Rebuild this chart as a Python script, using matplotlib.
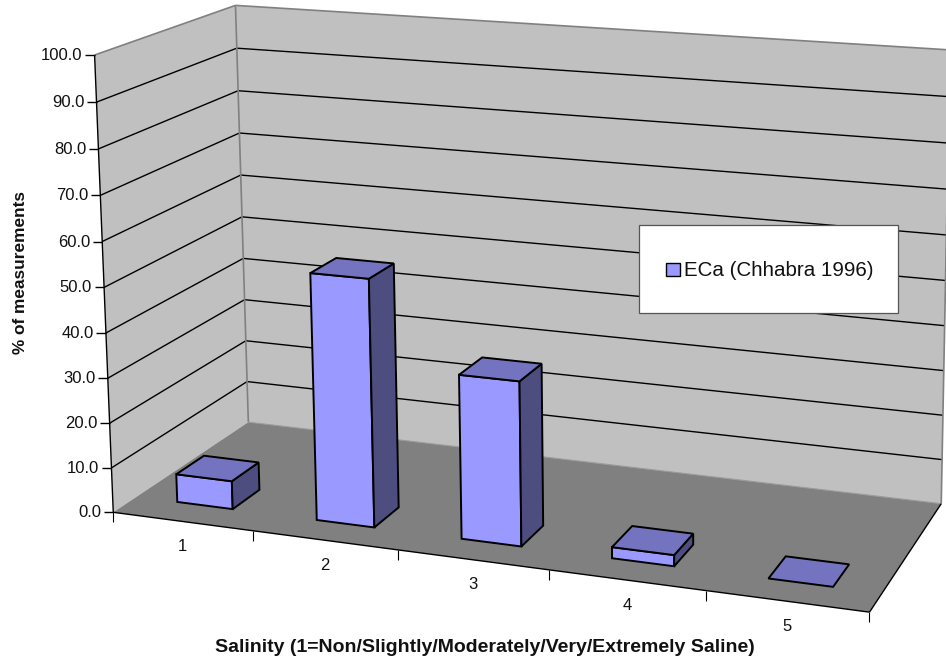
import numpy as np
import matplotlib
matplotlib.use("Agg")
import matplotlib.pyplot as plt
from matplotlib.patches import Polygon, Rectangle

plt.rcParams['font.family'] = ['Liberation Sans', 'DejaVu Sans']

categories = ['1', '2', '3', '4', '5']
values = [6.3, 54.4, 35.7, 2.4, 0.0]
z_ticks = [0, 10, 20, 30, 40, 50, 60, 70, 80, 90, 100]
z_labels = ['%.1f' % t for t in z_ticks]
series_name = 'ECa (Chhabra 1996)'
x_title = 'Salinity (1=Non/Slightly/Moderately/Very/Extremely Saline)'
z_title = '% of measurements'

# Calibration of the pseudo-3D view: scale position (cat, depth, value) -> pixel
calib_scale = [(0, 0, 0), (0, 0, 100), (0, 1, 0), (0, 1, 100), (5, 0, 0), (5, 1, 0),
               (5, 1, 100), (1, 0, 0), (2, 0, 0), (3, 0, 0), (4, 0, 0), (0, 0, 50), (0, 1, 50)]
calib_pixel = [(114, 512), (94, 55), (248, 423), (236, 6), (870, 612), (941, 504),
               (950, 50), (253, 531), (398, 550), (549, 570), (706, 590), (104, 288), (242, 215)]


def fit_projection(src, dst):
    rows = []
    for (X, Y, Z), (u, v) in zip(src, dst):
        rows.append([X, Y, Z, 1, 0, 0, 0, 0, -u*X, -u*Y, -u*Z, -u])
        rows.append([0, 0, 0, 0, X, Y, Z, 1, -v*X, -v*Y, -v*Z, -v])
    _, _, vt = np.linalg.svd(np.array(rows, float))
    return vt[-1].reshape(3, 4)


P = fit_projection(calib_scale, calib_pixel)


def proj(x, y, z):
    h = P @ np.array([x, y, z, 1.0])
    return h[0] / h[2], h[1] / h[2]


fig = plt.figure(figsize=(9.46, 6.6), dpi=100, facecolor='white')
ax = fig.add_axes([0, 0, 1, 1])
ax.set_xlim(0, 946)
ax.set_ylim(660, 0)
ax.axis('off')

WALL, FLOOR, GREY = '#C0C0C0', '#808080', '#808080'
FRONT, TOP, SIDE = '#9999FF', '#7373BF', '#4D4D80'
N = len(categories)
ZMAX = z_ticks[-1]


def poly(pts, fc, ec='none', lw=0, z=1):
    ax.add_patch(Polygon([proj(*p) for p in pts], closed=True, facecolor=fc,
                         edgecolor=ec, linewidth=lw, zorder=z, joinstyle='miter'))


def seg(a, b, color='black', lw=1.0, z=3):
    p, q = proj(*a), proj(*b)
    ax.plot([p[0], q[0]], [p[1], q[1]], color=color, lw=lw, zorder=z, solid_capstyle='butt')


# walls
poly([(0, 0, 0), (0, 0, ZMAX), (0, 1, ZMAX), (0, 1, 0)], WALL)
poly([(0, 1, 0), (0, 1, ZMAX), (N, 1, ZMAX), (N, 1, 0)], WALL)
# gridlines
for t in z_ticks[1:-1]:
    seg((0, 0, t), (0, 1, t), lw=1.0)
    seg((0, 1, t), (N, 1, t), lw=1.0)
seg((0, 0, ZMAX), (0, 1, ZMAX), GREY, 1.2)
seg((0, 1, ZMAX), (N, 1, ZMAX), GREY, 1.2)
seg((0, 1, 0), (0, 1, ZMAX), GREY, 1.2)
seg((N, 1, 0), (N, 1, ZMAX), GREY, 1.2)
# floor
poly([(0, 0, 0), (N, 0, 0), (N, 1, 0), (0, 1, 0)], FLOOR, z=4)
seg((0, 1, 0), (N, 1, 0), '#9a9a9a', 0.8, 5)
seg((0, 0, 0), (N, 0, 0), 'black', 1.0, 5)
seg((N, 0, 0), (N, 1, 0), 'black', 1.0, 5)
# value axis
seg((0, 0, 0), (0, 0, ZMAX), 'black', 1.0, 5)
for t, lab in zip(z_ticks, z_labels):
    px, py = proj(0, 0, t)
    ax.plot([px - 9.5, px], [py, py], color='black', lw=1.0, zorder=5, solid_capstyle='butt')
    ax.text(px - 12, py + 0.5, lab, ha='right', va='center', fontsize=12, color='#111111')
# category axis
for i in range(N + 1):
    px, py = proj(i, 0, 0)
    ax.plot([px, px], [py, py + 10], color='black', lw=0.8, zorder=5, solid_capstyle='butt')
for i, lab in enumerate(categories):
    px, py = proj(i + 0.5, 0, 0)
    ax.text(px, py + 25, lab, ha='center', va='center', fontsize=12, color='#111111')

# bars
X0, X1, Y0, Y1 = 0.298, 0.70, 0.16, 0.36
for i, v in enumerate(values):
    a, b = i + X0, i + X1
    lw = 1.4
    if v > 0:
        poly([(a, Y0, 0), (b, Y0, 0), (b, Y0, v), (a, Y0, v)], FRONT, 'black', lw, 10 + i)
        poly([(b, Y0, 0), (b, Y1, 0), (b, Y1, v), (b, Y0, v)], SIDE, 'black', lw, 10 + i)
    poly([(a, Y0, v), (b, Y0, v), (b, Y1, v), (a, Y1, v)], TOP, 'black', lw, 10 + i)

# legend
ax.add_patch(Rectangle((638.5, 225), 259, 88, facecolor='white', edgecolor='#555555', lw=0.9, zorder=30))
ax.add_patch(Rectangle((666, 263), 14, 13, facecolor=FRONT, edgecolor='black', lw=1.0, zorder=31))
ax.text(684, 270.5, series_name, ha='left', va='center', fontsize=14.8, zorder=31, color='#111111')

# titles
ax.text(485, 647.5, x_title, ha='center', va='center', fontsize=14, fontweight='bold', color='#111111')
ax.text(20.5, 272.5, z_title, ha='center', va='center', rotation=90, fontsize=12.4, fontweight='bold', color='#111111')

fig.savefig('out.png', dpi=100, facecolor='white')
